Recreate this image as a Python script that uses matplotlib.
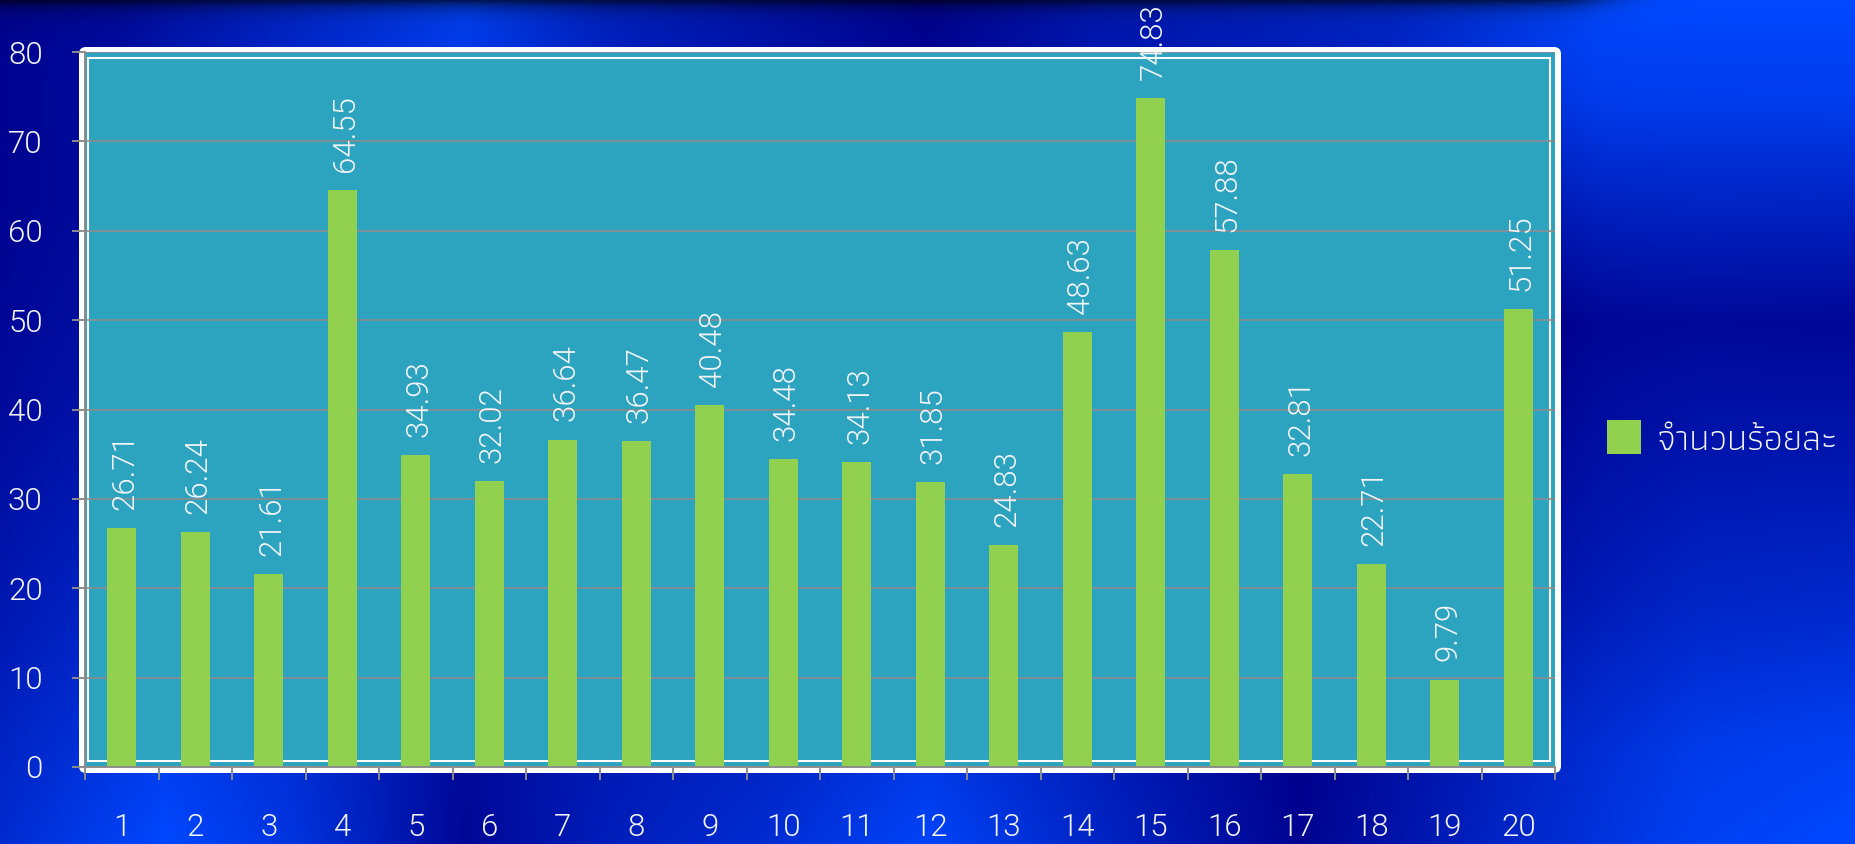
import numpy as np
import matplotlib as mpl
mpl.use('Agg')
import matplotlib.pyplot as plt
from matplotlib import font_manager, ft2font
from matplotlib.patches import FancyBboxPatch, Rectangle

# data
categories = ['1', '2', '3', '4', '5', '6', '7', '8', '9', '10',
              '11', '12', '13', '14', '15', '16', '17', '18', '19', '20']
values = [26.71, 26.24, 21.61, 64.55, 34.93, 32.02, 36.64, 36.47, 40.48, 34.48,
          34.13, 31.85, 24.83, 48.63, 74.83, 57.88, 32.81, 22.71, 9.79, 51.25]
series_name = 'จำนวนร้อยละ'

W, H = 1855, 844


def weight_of(f):
    try:
        return int(f.weight)
    except (TypeError, ValueError):
        return 400


def find_thai_font():
    # any installed font with Thai glyphs, lighter ones first
    found = []
    for f in font_manager.fontManager.ttflist:
        try:
            if ft2font.FT2Font(f.fname).get_char_index(0x0E08):
                found.append(f)
        except Exception:
            continue
    if not found:
        return None
    found.sort(key=lambda f: (f.style != 'normal', abs(weight_of(f) - 300), 'Serif' in f.name))
    return found[0].name


def find_light_latin():
    for fam in ['Roboto', 'Open Sans', 'Noto Sans', 'Lato', 'Inter']:
        for f in font_manager.fontManager.ttflist:
            if f.name == fam and f.style == 'normal' and weight_of(f) == 300:
                return fam
    return 'DejaVu Sans'


latin = find_light_latin()
thai = find_thai_font()
families = [latin]
if thai:
    families.append(thai)
families.append('DejaVu Sans')
plt.rcParams['font.family'] = families
plt.rcParams['font.weight'] = 300

txt = '#F4F4F8'
grey = '#8C8C8C'

# background brightness along the four edges
top_x = [0, 120, 232, 464, 600, 740, 928, 1100, 1392, 1600, 1855]
top_t = [0.05, 0.15, 0.4, 0.9, 0.5, 0.3, 0.05, 0.35, 0.55, 1.0, 1.0]
bot_x = [0, 166, 300, 464, 600, 760, 928, 1100, 1300, 1500, 1700, 1855]
bot_t = [0.6, 1.0, 0.7, 0.1, 0.4, 0.6, 0.95, 0.5, 0.05, 0.5, 0.9, 1.0]
left_y = [0, 211, 422, 633, 844]
left_t = [0.05, 0.05, 0.15, 0.35, 0.6]
right_y = [0, 100, 200, 323, 450, 600, 750, 844]
right_t = [1.0, 0.85, 0.5, 0.1, 0.3, 0.55, 0.9, 1.0]

xs = np.arange(W) + 0.5
ys = np.arange(H) + 0.5
U, V = np.meshgrid(xs / W, ys / H)
T = np.interp(xs, top_x, top_t)[None, :]
B = np.interp(xs, bot_x, bot_t)[None, :]
L = np.interp(ys, left_y, left_t)[:, None]
R = np.interp(ys, right_y, right_t)[:, None]
field = ((1 - V) * T + V * B + (1 - U) * L + U * R
         - ((1 - U) * (1 - V) * top_t[0] + U * (1 - V) * top_t[-1]
            + (1 - U) * V * bot_t[0] + U * V * bot_t[-1]))
field = np.clip(field, 0, 1)
navy = np.array([0, 0, 0x8A]) / 255
bright = np.array([0, 0x48, 0xFF]) / 255
rgb = navy + field[..., None] * (bright - navy)
shade = 0.7 * np.exp(-ys / 9)[:, None] / (1 + np.exp((xs - 1600) / 20))[None, :]
rgb = rgb * (1 - shade[..., None])

fig = plt.figure(figsize=(W / 100, H / 100), dpi=100)
bg = fig.add_axes([0, 0, 1, 1])
bg.imshow(rgb, extent=(0, W, H, 0), aspect='auto', interpolation='bilinear')
bg.set_xlim(0, W)
bg.set_ylim(H, 0)
bg.axis('off')
bg.add_patch(FancyBboxPatch((79, 47), 1482, 726, boxstyle='round,pad=0,rounding_size=7',
                            fc='white', ec='none'))

ax = fig.add_axes([85 / W, 1 - 767 / H, 1470 / W, 715 / H])
ax.set_facecolor('#2CA3BF')
ax.add_patch(Rectangle((88, 58), 1462, 703, fill=False, ec='white', lw=1.5,
                       transform=bg.transData, zorder=0.4))

x = np.arange(1, len(values) + 1)
bars = ax.bar(x, values, width=0.4, color='#92D050', zorder=2, label=series_name)

for xi, v in zip(x, values):
    ax.annotate('{0:.2f}'.format(v), (xi, v), xytext=(2, 13), textcoords='offset points',
                rotation=90, ha='center', va='bottom', color=txt, fontsize=22.5,
                annotation_clip=False)

ax.set_xlim(0.5, len(values) + 0.5)
ax.set_ylim(0, 80)
ax.set_yticks(range(0, 81, 10))
ax.yaxis.grid(True, color=grey, lw=1.2)
ax.set_axisbelow(True)

ax.set_xticks(np.arange(0.5, len(values) + 1, 1))
ax.set_xticklabels([])
ax.set_xticks(x, minor=True)
ax.set_xticklabels(categories, minor=True)
ax.tick_params(axis='x', which='major', length=9.5, width=1.4, color=grey)
ax.tick_params(axis='x', which='minor', length=0, pad=33, labelsize=22.5, labelcolor=txt)
ax.tick_params(axis='y', length=9.5, width=1.4, color=grey, pad=21, labelsize=22.5, labelcolor=txt)

for s in ['top', 'right']:
    ax.spines[s].set_visible(False)
for s in ['left', 'bottom']:
    ax.spines[s].set_color(grey)
    ax.spines[s].set_linewidth(1.4)

fig.legend(handles=[bars], labels=[series_name], loc='center left',
           bbox_to_anchor=(1607 / W, 1 - 439 / H), frameon=False, fontsize=26.5,
           handlelength=0.93, handleheight=1.05, handletextpad=0.42,
           borderpad=0, borderaxespad=0, labelcolor=txt)

fig.savefig('out.png', dpi=100)
